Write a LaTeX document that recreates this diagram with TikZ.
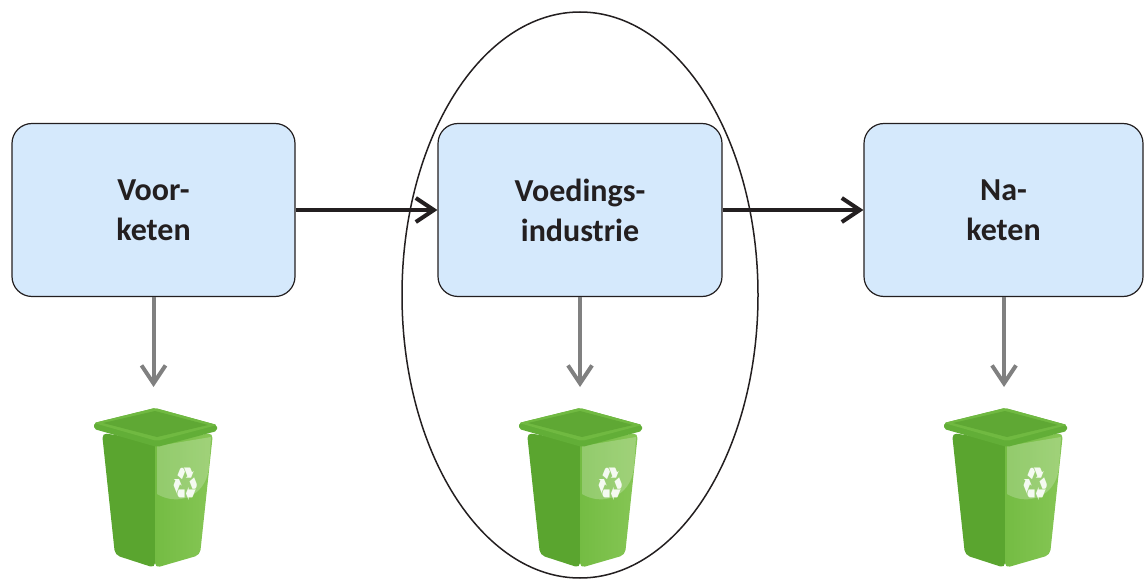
\documentclass[tikz,border=0pt]{standalone}
\usepackage{fontspec}
\setmainfont{Carlito}
\newfontfamily\symfont{DejaVu Sans}
\usetikzlibrary{arrows.meta}
\definecolor{boxfill}{HTML}{D5E9FC}
\definecolor{boxline}{HTML}{231F20}
\definecolor{greyarrow}{HTML}{808080}
\definecolor{binDark}{HTML}{5AA52F}
\definecolor{binLight}{HTML}{74BC43}
\definecolor{binLighter}{HTML}{86C655}
\definecolor{binRim}{HTML}{62AE37}
\definecolor{binTop}{HTML}{70B941}
\definecolor{binIn}{HTML}{5FA834}
\tikzset{
  stage/.style={draw=boxline, line width=1.2pt, fill=boxfill, rounded corners=20pt,
    minimum height=173pt, align=center, font=\bfseries\fontsize{32}{40}\selectfont,
    text=boxline},
  flow/.style={draw=boxline, line width=4pt, -{Straight Barb[length=18pt,width=24pt,line width=4pt]}},
  waste/.style={draw=greyarrow, line width=4pt, -{Straight Barb[length=18pt,width=24pt,line width=4pt]}},
}
\newcommand\drawbin[1]{%
  \begin{scope}[shift={(#1,0)}]
    \fill[binDark, rounded corners=5pt] (-53,433) -- (-40,555) -- (0,568) -- (0,441) -- cycle;
    \shade[left color=binLight, right color=binLighter, rounded corners=5pt] (0,441) -- (58,433) -- (45,555) -- (0,568) -- cycle;
    \fill[white, opacity=0.22] (2,446) -- (56,437) -- (54,468) .. controls (50,498) and (22,506) .. (2,494) -- cycle;
    \fill[binRim, rounded corners=2pt] (-61,423) -- (0,408) -- (62,425) -- (62,431) -- (2,447) -- (-61,429) -- cycle;
    \fill[binTop, rounded corners=2pt] (-61,423) -- (0,408) -- (62,425) -- (2,441) -- cycle;
    \fill[binIn] (-52,423) -- (0,411) -- (53,425) -- (2,437) -- cycle;
    \node[text=white, opacity=0.9, font=\symfont\fontsize{44}{44}\selectfont, inner sep=0pt, xscale=0.72, yscale=1.05] at (31,484) {♻};
  \end{scope}}
\begin{document}
\begin{tikzpicture}[x=1pt, y=-1pt]
  \useasboundingbox (0,0) rectangle (1144,580);
  \draw[line width=1.5pt, boxline] (580,295) ellipse [x radius=178, y radius=283];
  \node[stage, minimum width=283pt] (voor) at (153.5,210) {Voor-\\keten};
  \node[stage, minimum width=284pt] (voed) at (580,210) {Voedings-\\industrie};
  \node[stage, minimum width=279pt] (na) at (1003.5,210) {Na-\\keten};
  \draw[flow] (voor.east) -- (voed.west);
  \draw[flow] (voed.east) -- (na.west);
  \coordinate (b1) at (153.5,387);
  \coordinate (b2) at (580,387);
  \coordinate (b3) at (1004,387);
  \draw[waste] (voor.south) -- (b1);
  \draw[waste] (voed.south) -- (b2);
  \draw[waste] (na.south -| b3) -- (b3);
  \drawbin{155}
  \drawbin{580}
  \drawbin{1005}
\end{tikzpicture}
\end{document}
